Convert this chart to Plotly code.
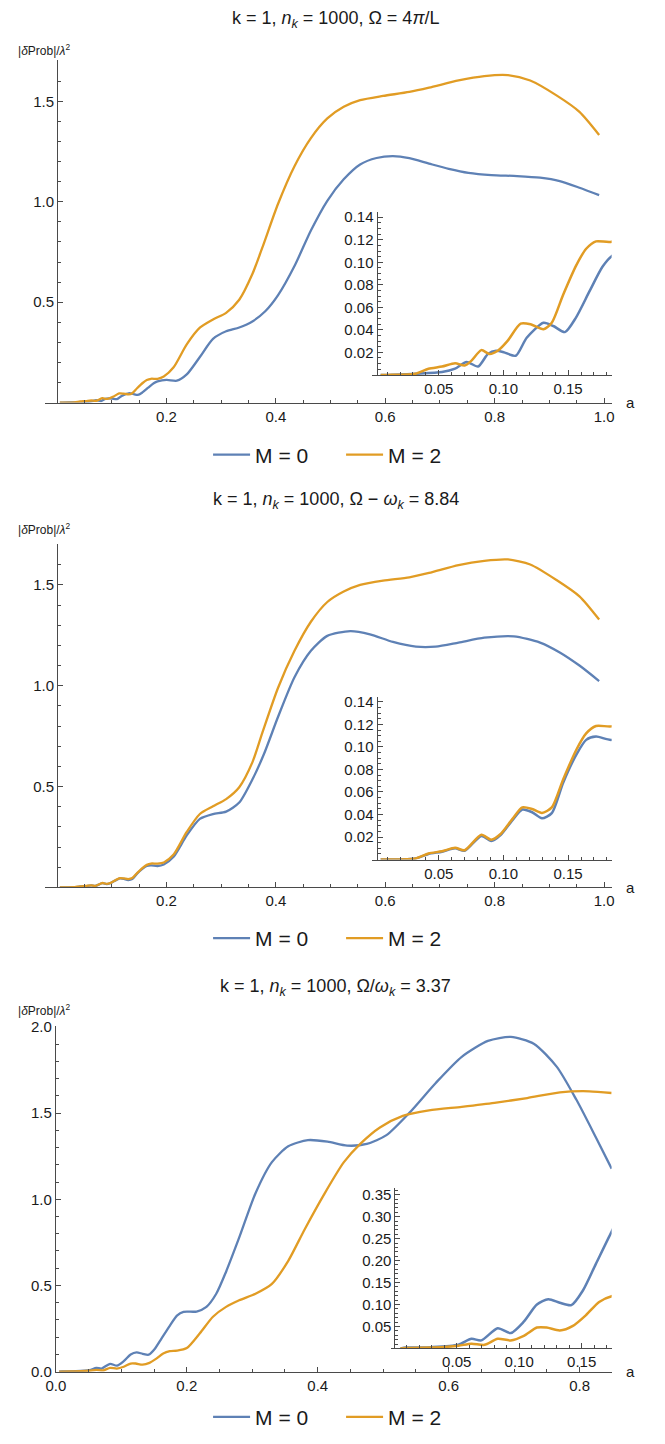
import numpy as np
import plotly.graph_objects as go

# ---------------- data ----------------
# Panel 1 : Omega = 4 pi / L
P1_A_M0 = [0.005, 0.0107, 0.032, 0.0525, 0.0626, 0.0715, 0.0804, 0.088, 0.0943, 0.1006, 0.1095, 0.118,
           0.131, 0.1386, 0.1475, 0.156, 0.1665, 0.1766, 0.1837, 0.2, 0.219, 0.237, 0.261, 0.285, 0.309,
           0.333, 0.357, 0.381, 0.404, 0.434, 0.464, 0.494, 0.524, 0.554, 0.584, 0.614, 0.644, 0.680,
           0.716, 0.752, 0.794, 0.841, 0.883, 0.919, 0.955, 0.991]
P1_V_M0 = [0, 0, 0.001, 0.0025, 0.0055, 0.0115, 0.0074, 0.0185, 0.0214, 0.020, 0.017, 0.033,
           0.0463, 0.0434, 0.038, 0.0507, 0.0741, 0.096, 0.1054, 0.113, 0.109, 0.14, 0.227, 0.317, 0.355,
           0.374, 0.404, 0.456, 0.535, 0.68, 0.857, 1.005, 1.112, 1.186, 1.218, 1.227, 1.217, 1.19,
           1.164, 1.144, 1.133, 1.128, 1.12, 1.103, 1.07, 1.033]
P1_A_M2 = [0.005, 0.0107, 0.032, 0.042, 0.0525, 0.0626, 0.070, 0.0753, 0.0829, 0.0892, 0.0956, 0.1032,
           0.1133, 0.121, 0.131, 0.1374, 0.1462, 0.1564, 0.164, 0.1716, 0.1837, 0.195, 0.213, 0.237,
           0.261, 0.285, 0.309, 0.333, 0.357, 0.375, 0.404, 0.434, 0.464, 0.494, 0.524, 0.554, 0.596,
           0.644, 0.680, 0.734, 0.781, 0.824, 0.865, 0.913, 0.955, 0.991]
P1_V_M2 = [0, 0, 0.001, 0.0054, 0.0074, 0.0104, 0.0083, 0.0127, 0.022, 0.0185, 0.0214, 0.0302,
           0.0455, 0.0449, 0.0405, 0.0463, 0.0712, 0.0975, 0.112, 0.1186, 0.1183, 0.13, 0.176, 0.29,
           0.373, 0.414, 0.447, 0.512, 0.64, 0.77, 0.99, 1.177, 1.317, 1.415, 1.473, 1.506, 1.527,
           1.547, 1.568, 1.604, 1.626, 1.631, 1.604, 1.53, 1.448, 1.333]

# Panel 2 : Omega - omega_k = 8.84
P2_A_M0 = [0.005, 0.0107, 0.032, 0.042, 0.0525, 0.0626, 0.070, 0.0829, 0.0905, 0.098, 0.107, 0.1146,
           0.1222, 0.1298, 0.1374, 0.1462, 0.1564, 0.164, 0.1716, 0.1837, 0.195, 0.213, 0.237, 0.261,
           0.285, 0.309, 0.333, 0.357, 0.378, 0.404, 0.434, 0.464, 0.494, 0.536, 0.572, 0.614, 0.656,
           0.692, 0.734, 0.781, 0.835, 0.883, 0.919, 0.955, 0.991]
P2_V_M0 = [0, 0, 0.001, 0.005, 0.007, 0.0100, 0.0078, 0.021, 0.0165, 0.022, 0.035, 0.0444,
           0.042, 0.0367, 0.0413, 0.0683, 0.0932, 0.1063, 0.1092, 0.1063, 0.114, 0.152, 0.258, 0.34,
           0.364, 0.376, 0.421, 0.535, 0.66, 0.846, 1.042, 1.173, 1.247, 1.271, 1.255, 1.217, 1.194,
           1.194, 1.214, 1.238, 1.245, 1.214, 1.165, 1.1, 1.023]
P2_A_M2 = [0.005, 0.0107, 0.032, 0.042, 0.0525, 0.0626, 0.070, 0.0829, 0.0905, 0.098, 0.107, 0.1146,
           0.1222, 0.1298, 0.1374, 0.1462, 0.1564, 0.164, 0.1716, 0.1837, 0.195, 0.213, 0.237, 0.261,
           0.285, 0.309, 0.333, 0.357, 0.375, 0.404, 0.434, 0.464, 0.494, 0.524, 0.554, 0.596, 0.644,
           0.680, 0.734, 0.781, 0.824, 0.865, 0.913, 0.955, 0.991]
P2_V_M2 = [0, 0, 0.001, 0.0054, 0.0074, 0.0104, 0.0083, 0.022, 0.0176, 0.0229, 0.0361, 0.0463,
           0.0449, 0.0414, 0.0463, 0.0712, 0.0975, 0.112, 0.1186, 0.1183, 0.124, 0.163, 0.275, 0.364,
           0.402, 0.438, 0.497, 0.62, 0.765, 0.99, 1.173, 1.317, 1.415, 1.467, 1.5, 1.521, 1.537,
           1.559, 1.598, 1.619, 1.626, 1.601, 1.524, 1.443, 1.328]

# Panel 3 : Omega / omega_k = 3.37
P3_A_M0 = [0.005, 0.0094, 0.030, 0.0514, 0.0618, 0.0697, 0.0828, 0.0932, 0.1037, 0.1142, 0.1233,
           0.1325, 0.1417, 0.151, 0.1613, 0.174, 0.185, 0.195, 0.215, 0.23, 0.245, 0.26, 0.28, 0.305,
           0.33, 0.355, 0.385, 0.415, 0.445, 0.475, 0.505, 0.54, 0.58, 0.62, 0.66, 0.695, 0.73, 0.765,
           0.795, 0.825, 0.849]
P3_V_M0 = [0, 0.002, 0.003, 0.0086, 0.022, 0.0184, 0.046, 0.035, 0.061, 0.1, 0.112,
           0.104, 0.0986, 0.132, 0.192, 0.266, 0.325, 0.347, 0.349, 0.376, 0.452, 0.58, 0.777, 1.035,
           1.215, 1.307, 1.343, 1.334, 1.311, 1.321, 1.372, 1.501, 1.673, 1.826, 1.918, 1.941, 1.902, 1.769,
           1.578, 1.358, 1.177]
P3_A_M2 = [0.005, 0.0094, 0.038, 0.0514, 0.0618, 0.0723, 0.0828, 0.0932, 0.1037, 0.1142, 0.122,
           0.1325, 0.143, 0.1535, 0.164, 0.174, 0.185, 0.2, 0.22, 0.24, 0.26, 0.28, 0.305, 0.33, 0.355,
           0.38, 0.41, 0.44, 0.465, 0.495, 0.53, 0.57, 0.62, 0.67, 0.72, 0.77, 0.815, 0.849]
P3_V_M2 = [0, 0.001, 0.003, 0.0062, 0.011, 0.0083, 0.022, 0.0184, 0.0289, 0.0476, 0.0476,
           0.041, 0.0514, 0.076, 0.106, 0.119, 0.122, 0.137, 0.223, 0.319, 0.376, 0.414, 0.452, 0.509, 0.643,
           0.825, 1.03, 1.215, 1.321, 1.416, 1.483, 1.515, 1.536, 1.559, 1.587, 1.62, 1.626, 1.616]

SERIES_NAMES = ["M = 0", "M = 2"]
TITLES = [
    "k = 1, <i>n</i><sub><i>k</i></sub> = 1000, Ω = 4<i>π</i>/L",
    "k = 1, <i>n</i><sub><i>k</i></sub> = 1000, Ω − <i>ω</i><sub><i>k</i></sub> = 8.84",
    "k = 1, <i>n</i><sub><i>k</i></sub> = 1000, Ω/<i>ω</i><sub><i>k</i></sub> = 3.37",
]
YLABEL = "|<i>δ</i>Prob|/<i>λ</i><sup>2</sup>"
XLABEL = "a"

MAIN12_XTICKS = [0.2, 0.4, 0.6, 0.8, 1.0]
MAIN12_YTICKS = [0.5, 1.0, 1.5]
MAIN3_XTICKS = [0.0, 0.2, 0.4, 0.6, 0.8]
MAIN3_YTICKS = [0.0, 0.5, 1.0, 1.5, 2.0]
INSET12_YTICKS = [0.02, 0.04, 0.06, 0.08, 0.10, 0.12, 0.14]
INSET3_YTICKS = [0.05, 0.10, 0.15, 0.20, 0.25, 0.30, 0.35]
INSET_XTICKS = [0.05, 0.10, 0.15]

# ---------------- styling / layout ----------------
W, H = 665, 1444
BLUE = "#5E81B5"
ORANGE = "#E19C24"
AXC = "#4a4a4a"
TXT = "#1a1a1a"
FONT = "Liberation Sans, Arial, sans-serif"
TICK_SIZE = 15


def px(x):
    return x / W


def py(y):
    return 1 - y / H


def minor_vals(lo, hi, step):
    n = int(round((hi - lo) / step))
    return [round(lo + i * step, 6) for i in range(n + 1)]


fig = go.Figure()

panels = [
    (P1_A_M0, P1_V_M0, P1_A_M2, P1_V_M2),
    (P2_A_M0, P2_V_M0, P2_A_M2, P2_V_M2),
    (P3_A_M0, P3_V_M0, P3_A_M2, P3_V_M2),
]
legends = ["legend", "legend2", "legend3"]

for i, (a0, v0, a2, v2) in enumerate(panels):
    mx = "x" if i == 0 else f"x{2 * i + 1}"
    my = "y" if i == 0 else f"y{2 * i + 1}"
    ix = f"x{2 * i + 2}"
    iy = f"y{2 * i + 2}"
    for a, v, col, name in ((a0, v0, BLUE, SERIES_NAMES[0]), (a2, v2, ORANGE, SERIES_NAMES[1])):
        fig.add_trace(go.Scatter(x=a, y=v, mode="lines", name=name, xaxis=mx, yaxis=my,
                                 line=dict(color=col, width=2.3, shape="spline", smoothing=0.7),
                                 legend=legends[i], showlegend=True, hoverinfo="skip"))
        fig.add_trace(go.Scatter(x=a, y=v, mode="lines", name=name, xaxis=ix, yaxis=iy,
                                 line=dict(color=col, width=2.5, shape="spline", smoothing=0.7),
                                 showlegend=False, hoverinfo="skip"))


def axis_common(fmt):
    return dict(showgrid=False, zeroline=False, showline=True, linecolor=AXC, linewidth=1,
                ticks="inside", ticklen=5, tickwidth=1, tickcolor=AXC, tickmode="array",
                tickformat=fmt, tickfont=dict(family=FONT, size=TICK_SIZE, color=TXT), fixedrange=True)


layout = dict(
    width=W, height=H, margin=dict(l=0, r=0, t=0, b=0),
    paper_bgcolor="white", plot_bgcolor="rgba(0,0,0,0)",
    font=dict(family=FONT, color=TXT), showlegend=True,
)

# main panels 1 and 2
for i, (ybot, ytop) in enumerate([(399, 53), (889.3, 541.7)]):
    xk = "xaxis" if i == 0 else "xaxis3"
    yk = "yaxis" if i == 0 else "yaxis3"
    ya = "y" if i == 0 else "y3"
    layout[xk] = dict(axis_common(".1f"), domain=[px(36), px(613)], range=[-0.0215, 1.0144],
                      anchor=ya, tickvals=MAIN12_XTICKS,
                      minor=dict(tickmode="array", tickvals=minor_vals(0.05, 1.0, 0.05), ticks="inside",
                                 ticklen=3, tickcolor=AXC))
    layout[yk] = dict(axis_common(".1f"), domain=[py(ybot), py(ytop)], range=[0, 1.704],
                      anchor="free", position=px(48), tickvals=MAIN12_YTICKS,
                      minor=dict(tickmode="array", tickvals=minor_vals(0.1, 1.7, 0.1), ticks="inside",
                                 ticklen=3, tickcolor=AXC))

# main panel 3
layout["xaxis5"] = dict(axis_common(".1f"), domain=[px(46.7), px(612.7)], range=[0, 0.849], anchor="y5",
                        tickvals=MAIN3_XTICKS,
                        minor=dict(tickmode="array", tickvals=minor_vals(0.05, 0.85, 0.05), ticks="inside",
                                   ticklen=3, tickcolor=AXC))
layout["yaxis5"] = dict(axis_common(".1f"), domain=[py(1379), py(1029.5)], range=[0, 2.004], anchor="x5",
                        tickvals=MAIN3_YTICKS,
                        minor=dict(tickmode="array", tickvals=minor_vals(0.1, 1.9, 0.1), ticks="inside",
                                   ticklen=3, tickcolor=AXC))

# insets 1 and 2
for i, (ybot, ytop) in enumerate([(371, 206.7), (861.1, 696.8)]):
    xk = "xaxis2" if i == 0 else "xaxis4"
    yk = "yaxis2" if i == 0 else "yaxis4"
    ya = "y2" if i == 0 else "y4"
    layout[xk] = dict(axis_common(".2f"), domain=[px(369), px(612.7)], range=[-0.0014, 0.1837],
                      anchor=ya, tickvals=INSET_XTICKS,
                      minor=dict(tickmode="array", tickvals=minor_vals(0.01, 0.18, 0.01), ticks="inside",
                                 ticklen=3, tickcolor=AXC))
    layout[yk] = dict(axis_common(".2f"), domain=[py(ybot), py(ytop)], range=[0, 0.1443],
                      anchor="free", position=px(373.3), tickvals=INSET12_YTICKS,
                      minor=dict(tickmode="array", tickvals=minor_vals(0.005, 0.14, 0.005), ticks="inside",
                                 ticklen=3, tickcolor=AXC))

# inset 3
layout["xaxis6"] = dict(axis_common(".2f"), domain=[px(388), px(612.7)], range=[-0.0026, 0.174], anchor="y6",
                        tickvals=INSET_XTICKS,
                        minor=dict(tickmode="array", tickvals=minor_vals(0.01, 0.17, 0.01), ticks="inside",
                                   ticklen=3, tickcolor=AXC))
layout["yaxis6"] = dict(axis_common(".2f"), domain=[py(1355.5), py(1193)], range=[0, 0.3657],
                        anchor="free", position=px(391.5), tickvals=INSET3_YTICKS,
                        minor=dict(tickmode="array", tickvals=minor_vals(0.01, 0.36, 0.01), ticks="inside",
                                   ticklen=3, tickcolor=AXC))

# legends
for name, ypix in zip(legends, [452, 941, 1425]):
    layout[name] = dict(orientation="h", x=0.507, xanchor="center", y=py(ypix), yanchor="middle",
                        font=dict(family=FONT, size=21, color=TXT), bgcolor="rgba(0,0,0,0)",
                        itemwidth=37, tracegroupgap=0, entrywidth=81)

fig.update_layout(**layout)

# text annotations
ann = []
for t, ty, ly, ay in zip(TITLES, [12, 498, 990], [42, 527, 1013], [399, 889.3, 1379]):
    ann.append(dict(text=t, x=0.499, y=py(ty), xref="paper", yref="paper", xanchor="center",
                    yanchor="middle", showarrow=False, font=dict(family=FONT, size=18, color=TXT)))
    ann.append(dict(text=YLABEL, x=px(6), y=py(ly), xref="paper", yref="paper", xanchor="left",
                    yanchor="middle", showarrow=False, font=dict(family=FONT, size=12, color=TXT)))
    ann.append(dict(text=XLABEL, x=px(632), y=py(ay), xref="paper", yref="paper", xanchor="center",
                    yanchor="middle", showarrow=False, font=dict(family=FONT, size=15, color=TXT)))
fig.update_layout(annotations=ann)

fig.write_html("out.html", config={"displayModeBar": False},
               post_script="document.body.style.margin='0';document.body.style.overflow='hidden';")
